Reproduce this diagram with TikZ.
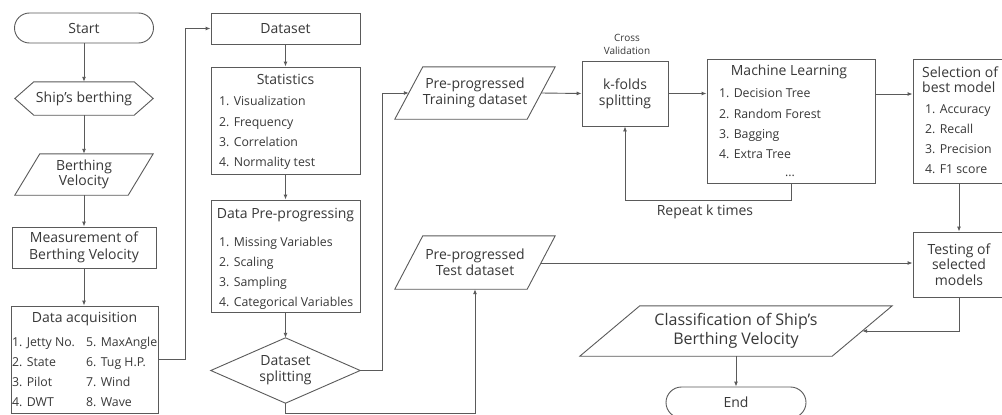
\documentclass[tikz,border=0pt]{standalone}
\usepackage{fontspec}
\setmainfont{Open Sans}
\usetikzlibrary{arrows.meta,calc}
\definecolor{ln}{HTML}{5A5A5A}
\definecolor{tx}{HTML}{383838}
\newcommand\drawpara[2]{\draw[con] ($(#1.north west)+(#2,0)$) -- (#1.north east) -- ($(#1.south east)+(-#2,0)$) -- (#1.south west) -- cycle;}
\begin{document}
\begin{tikzpicture}[x=1pt,y=-1pt,
  box/.style={draw=ln, line width=0.9pt, rectangle, inner sep=0pt, text=tx, align=center, font=\fontsize{14}{16}\selectfont},
  ghost/.style={inner sep=0pt, text=tx, align=center, font=\fontsize{14}{16}\selectfont},
  title/.style={inner sep=0pt, text=tx, font=\fontsize{14}{16}\selectfont},
  item/.style={inner sep=0pt, text=tx, anchor=west, text height=1.5ex, text depth=.25ex, font=\fontsize{12.3}{14}\selectfont},
  con/.style={draw=ln, line width=0.9pt},
  arr/.style={draw=ln, line width=0.9pt, -{Latex[length=5pt,width=4pt]}},
]
\fill[white] (0,0) rectangle (1002,415);
\useasboundingbox (0,0) rectangle (1002,415);

% ---- left column ----
\node[box, rounded corners=15pt, minimum width=139pt, minimum height=30pt] (start) at (84,28) {Start};
\node[ghost, minimum width=138pt, minimum height=33pt] (sb) at (84,98.5) {Ship's berthing};
\draw[con] (sb.west) -- ($(sb.north west)+(19,0)$) -- ($(sb.north east)+(-19,0)$) -- (sb.east) -- ($(sb.south east)+(-19,0)$) -- ($(sb.south west)+(19,0)$) -- cycle;
\node[ghost, minimum width=138pt, minimum height=41pt, font=\fontsize{14}{15}\selectfont] (bv) at (84,174.5) {Berthing\\Velocity};
\drawpara{bv}{25}
\node[box, minimum width=144pt, minimum height=41pt, font=\fontsize{14}{17}\selectfont] (meas) at (84,247.5) {Measurement of\\Berthing Velocity};
\node[box, minimum width=147pt, minimum height=107pt] (da) at (84.5,359.5) {};
\node[title] (dat) at (84.5,319) {Data acquisition};
\node[item] (da1) at (12,343) {1. Jetty No.};
\node[item] (da2) at (12,363) {2. State};
\node[item] (da3) at (12,383) {3. Pilot};
\node[item] (da4) at (12,403) {4. DWT};
\node[item] (da5) at (86,343) {5. MaxAngle};
\node[item] (da6) at (86,363) {6. Tug H.P.};
\node[item] (da7) at (86,383) {7. Wind};
\node[item] (da8) at (86,403) {8. Wave};

% ---- second column ----
\node[box, minimum width=149pt, minimum height=31pt] (dset) at (285.5,28.5) {Dataset};
\node[box, minimum width=149pt, minimum height=107pt] (stats) at (285.5,120.5) {};
\node[title] (statt) at (285.5,79) {Statistics};
\node[item] (st1) at (219,102) {1. Visualization};
\node[item] (st2) at (219,123) {2. Frequency};
\node[item] (st3) at (219,143) {3. Correlation};
\node[item] (st4) at (219,163) {4. Normality test};
\node[box, minimum width=149pt, minimum height=112pt] (dpp) at (285.5,256) {};
\node[title] (dppt) at (285.5,215) {Data Pre-progressing};
\node[item] (dp1) at (219,243) {1. Missing Variables};
\node[item] (dp2) at (219,263) {2. Scaling};
\node[item] (dp3) at (219,283) {3. Sampling};
\node[item] (dp4) at (219,303) {4. Categorical Variables};
\node[ghost, minimum width=149pt, minimum height=65pt] (split) at (285.5,370.5) {Dataset\\splitting};
\draw[con] (split.west) -- (split.north) -- (split.east) -- (split.south) -- cycle;

% ---- third column ----
\node[ghost, minimum width=160pt, minimum height=52pt] (train) at (475,93) {Pre-progressed\\Training dataset};
\drawpara{train}{28}
\node[ghost, minimum width=160pt, minimum height=53pt] (test) at (475,262.5) {Pre-progressed\\Test dataset};
\drawpara{test}{28}
\node[box, minimum width=86pt, minimum height=65pt] (kf) at (625,93.5) {k-folds\\splitting};
\node[ghost, font=\fontsize{10}{13}\selectfont] (cv) at (627,44.5) {Cross\\Validation};

% ---- ML / selection ----
\node[box, minimum width=168pt, minimum height=124pt] (ml) at (791,121) {};
\node[title] (mlt) at (789,72) {Machine Learning};
\node[item] (ml1) at (719,94) {1. Decision Tree};
\node[item] (ml2) at (719,115) {2. Random Forest};
\node[item] (ml3) at (719,135) {3. Bagging};
\node[item] (ml4) at (719,155) {4. Extra Tree};
\node[item, anchor=center] (ml5) at (790,173) {...};
\node[box, minimum width=92pt, minimum height=124pt] (sel) at (959,121) {};
\node[title, anchor=west] (selt1) at (922,72) {Selection of};
\node[title, anchor=west] (selt2) at (922,87) {best model};
\node[item] (se1) at (925,110) {1. Accuracy};
\node[item] (se2) at (925,130) {2. Recall};
\node[item] (se3) at (925,150) {3. Precision};
\node[item] (se4) at (925,170) {4. F1 score};
\node[box, minimum width=92pt, minimum height=65pt, font=\fontsize{14}{15.5}\selectfont] (tbox) at (959,264.5) {Testing of\\selected\\models};
\node[ghost, minimum width=312pt, minimum height=50pt, font=\fontsize{16}{19}\selectfont] (class) at (736,331) {Classification of Ship's\\Berthing Velocity};
\drawpara{class}{60}
\node[box, rounded corners=15.5pt, minimum width=140pt, minimum height=31pt] (end) at (736,402.5) {End};
\node[ghost] (rep) at (705,212) {Repeat k times};

% ---- connectors ----
\draw[arr] (start.south) -- (start.south |- sb.north);
\draw[arr] (sb.south) -- (sb.south |- bv.north);
\draw[arr] (bv.south) -- (bv.south |- meas.north);
\draw[arr] (meas.south) -- (meas.south |- da.north);
\coordinate (c1) at (185,0);
\draw[arr] (da.east) -- (da.east -| c1) -- (c1 |- dset.west) -- (dset.west);
\draw[arr] (dset.south) -- (stats.north);
\draw[arr] (stats.south) -- (dpp.north);
\draw[arr] (dpp.south) -- (split.north);
\coordinate (c2) at (382,0);
\draw[arr] (split.east) -- (split.east -| c2) -- (c2 |- train.west) -- ($(train.west)+(14,0)$);
\coordinate (c3) at (0,413);
\draw[arr] (split.south) -- (split.south |- c3) -- (test.south |- c3) -- (test.south);
\draw[arr] ($(train.east)+(-14,0)$) -- (kf.west);
\draw[arr] (kf.east) -- (kf.east -| ml.west);
\draw[arr] (ml.east |- ml1) -- (sel.west |- ml1);
\coordinate (c4) at (0,200);
\draw[arr] (ml.south) -- (ml.south |- c4) -- (kf.south |- c4) -- (kf.south);
\draw[arr] (sel.south) -- (tbox.north);
\coordinate (c6) at (0,263);
\draw[arr] ($(test.east |- c6)+(-14,0)$) -- (tbox.west |- c6);
\draw[arr] (tbox.south) -- (tbox.south |- class.east) -- ($(class.east)+(-30,0)$);
\draw[arr] (class.south) -- (end.north);
\end{tikzpicture}
\end{document}
